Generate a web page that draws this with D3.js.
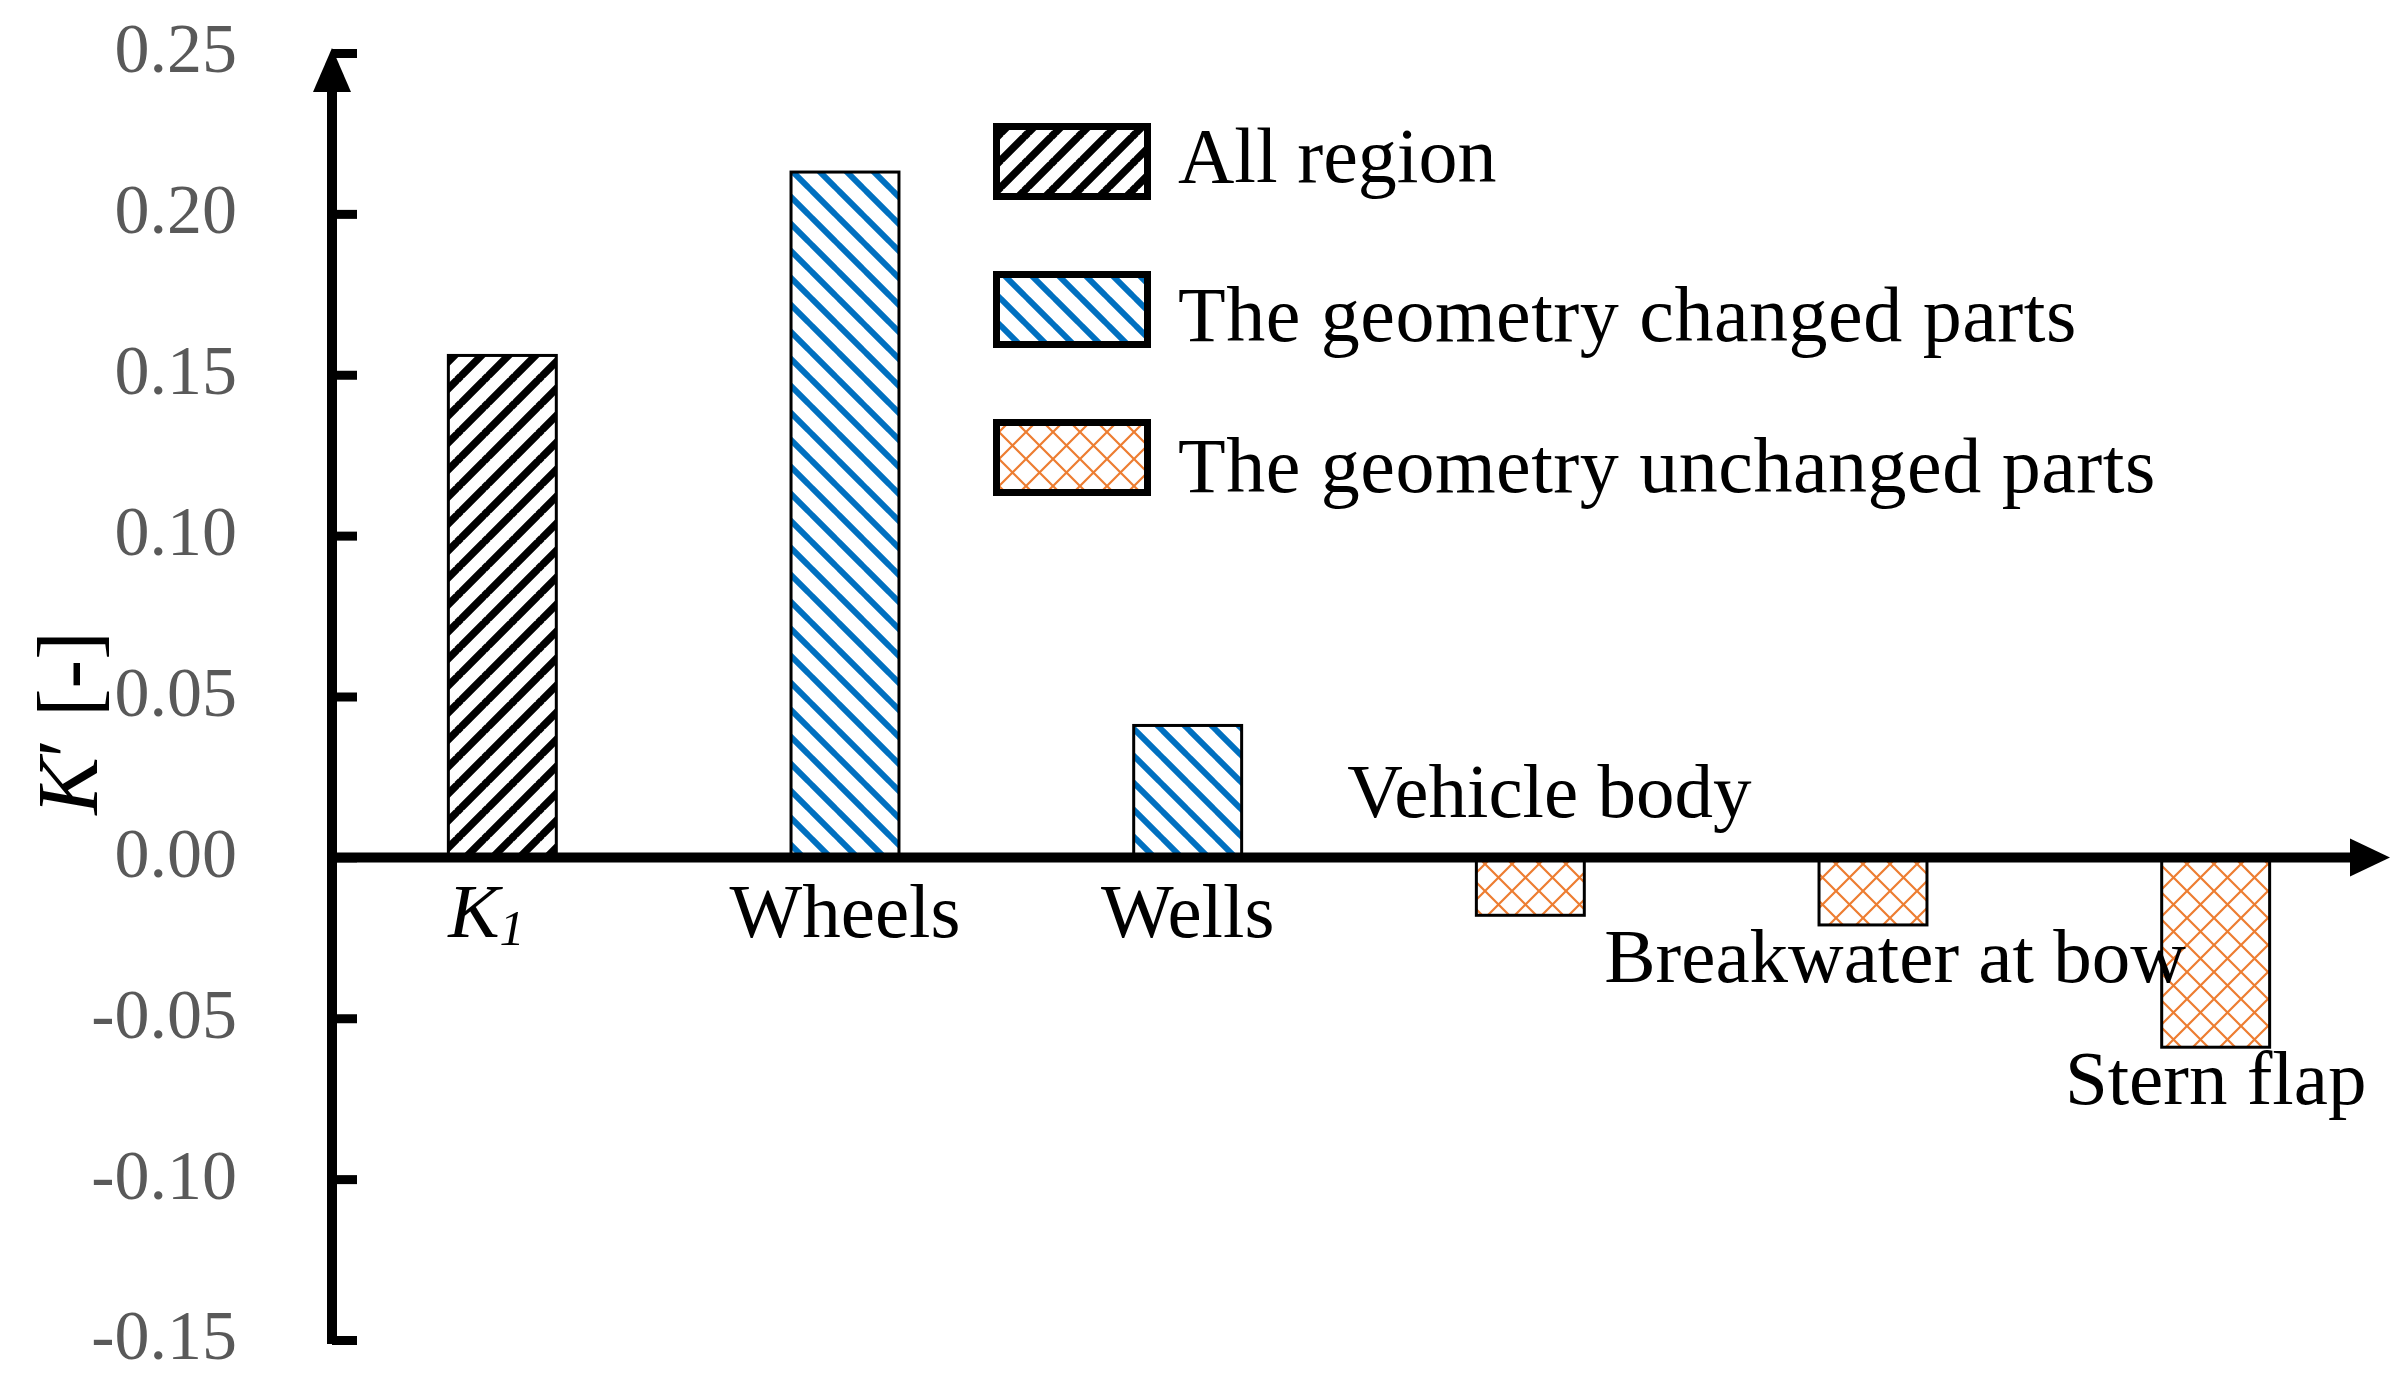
<!DOCTYPE html>
<html>
<head>
<meta charset="utf-8">
<script src="https://cdn.jsdelivr.net/npm/d3@7"></script>
<style>
  html, body { margin: 0; padding: 0; background: #ffffff; }
  svg { display: block; }
  text { font-family: "Liberation Serif", "DejaVu Serif", serif; }
</style>
</head>
<body>
<script>
// ---------------- data ----------------
const categories = ["K1", "Wheels", "Wells", "Vehicle body", "Breakwater at bow", "Stern flap"];
const values = [0.156, 0.213, 0.041, -0.018, -0.021, -0.059];
const groups = ["all", "changed", "changed", "unchanged", "unchanged", "unchanged"];
const seriesKeys = ["all", "changed", "unchanged"];
const seriesNames = ["All region", "The geometry changed parts", "The geometry unchanged parts"];
const tickValues = [-0.15, -0.10, -0.05, 0.00, 0.05, 0.10, 0.15, 0.20, 0.25];
const tickLabels = ["-0.15", "-0.10", "-0.05", "0.00", "0.05", "0.10", "0.15", "0.20", "0.25"];

// ---------------- layout ----------------
const W = 2400, H = 1378;
const axisX = 332;
const svg = d3.select("body").append("svg").attr("width", W).attr("height", H);

const y = d3.scaleLinear().domain([-0.15, 0.25]).range([1340, 53]);
const x = d3.scaleBand().domain(categories).range([331, 2387])
  .paddingInner(0.685).paddingOuter(0.3425);
const y0 = y(0);

// ---------------- patterns ----------------
const defs = svg.append("defs");
const P = 27;
function stripePattern(id, dir, color, sw) {
  const p = defs.append("pattern").attr("id", id).attr("patternUnits", "userSpaceOnUse")
    .attr("width", P).attr("height", P);
  p.append("rect").attr("width", P).attr("height", P).attr("fill", "#fff");
  const d = dir === "up"
    ? `M-2,2 L2,-2 M0,${P} L${P},0 M${P-2},${P+2} L${P+2},${P-2}`
    : `M-2,${P-2} L2,${P+2} M0,0 L${P},${P} M${P-2},-2 L${P+2},2`;
  p.append("path").attr("d", d).attr("stroke", color).attr("stroke-width", sw).attr("fill", "none");
}
stripePattern("pat-all", "up", "#000000", 7.5);
stripePattern("pat-changed", "down", "#0070C0", 6);
(function () {
  const p = defs.append("pattern").attr("id", "pat-unchanged").attr("patternUnits", "userSpaceOnUse")
    .attr("width", P).attr("height", P);
  p.append("rect").attr("width", P).attr("height", P).attr("fill", "#fff");
  p.append("path")
    .attr("d", `M-2,2 L2,-2 M0,${P} L${P},0 M${P-2},${P+2} L${P+2},${P-2} M-2,${P-2} L2,${P+2} M0,0 L${P},${P} M${P-2},-2 L${P+2},2`)
    .attr("stroke", "#ED7D31").attr("stroke-width", 2.2).attr("fill", "none");
})();
const fillFor = g => `url(#pat-${g})`;

// ---------------- bars ----------------
svg.append("g").selectAll("rect").data(categories).join("rect")
  .attr("x", d => x(d))
  .attr("width", x.bandwidth())
  .attr("y", (d, i) => Math.min(y(values[i]), y0))
  .attr("height", (d, i) => Math.abs(y(values[i]) - y0))
  .attr("fill", (d, i) => fillFor(groups[i]))
  .attr("stroke", "#000").attr("stroke-width", 3);

// ---------------- y axis ----------------
const yAxis = d3.axisLeft(y).tickValues(tickValues)
  .tickFormat((d, i) => tickLabels[i]).tickSizeInner(-25).tickSizeOuter(0).tickPadding(95);
const gy = svg.append("g").attr("transform", `translate(${axisX},0)`).call(yAxis);
gy.select(".domain").remove();
gy.selectAll(".tick line").attr("stroke", "#000").attr("stroke-width", 9);
gy.selectAll(".tick text")
  .attr("fill", "#595959").attr("font-size", 70)
  .attr("font-family", "Liberation Serif, serif")
  .attr("dy", "0.27em");

// y axis line + arrow
svg.append("line").attr("x1", axisX).attr("x2", axisX).attr("y1", 1344).attr("y2", 80)
  .attr("stroke", "#000").attr("stroke-width", 10);
svg.append("path").attr("d", `M${axisX},48 L${axisX-19},92 L${axisX+19},92 Z`).attr("fill", "#000");

// x axis (zero line) + arrow
svg.append("line").attr("x1", axisX - 5).attr("x2", 2355).attr("y1", y0).attr("y2", y0)
  .attr("stroke", "#000").attr("stroke-width", 10);
svg.append("path").attr("d", `M2390,${y0} L2350,${y0-19} L2350,${y0+19} Z`).attr("fill", "#000");

// ---------------- category labels ----------------
const labelG = svg.append("g").attr("font-size", 77).attr("fill", "#000");
categories.forEach((c, i) => {
  const cx = x(c) + x.bandwidth() / 2;
  const v = values[i];
  let tx, ty;
  if (v >= 0) { tx = cx; ty = 937; }
  else if (i === 3) { tx = cx + 19; ty = y0 - 40; }
  else { tx = cx + (i === 4 ? 22 : 0); ty = y(v) + 57; }
  const t = labelG.append("text").attr("x", tx).attr("y", ty).attr("text-anchor", "middle");
  if (c === "K1") {
    t.attr("x", tx - 16);
    t.append("tspan").attr("font-style", "italic").text("K");
    t.append("tspan").attr("font-style", "italic").attr("font-size", 50).attr("dy", 8).text("1");
  } else {
    t.text(c);
  }
});

// ---------------- y title ----------------
const yt = svg.append("text").attr("transform", `translate(97,723) rotate(-90)`)
  .attr("text-anchor", "middle").attr("font-size", 86).attr("fill", "#000");
yt.append("tspan").attr("font-style", "italic").text("K");
yt.append("tspan").text("\u2032 [-]");

// ---------------- legend ----------------
const legTops = [123, 271, 419];
const lg = svg.append("g");
seriesKeys.forEach((k, i) => {
  lg.append("rect").attr("x", 996.5).attr("y", legTops[i] + 3.5).attr("width", 151).attr("height", 70)
    .attr("fill", fillFor(k)).attr("stroke", "#000").attr("stroke-width", 7);
  lg.append("text").attr("x", 1178).attr("y", legTops[i] + [59, 70, 73][i])
    .attr("font-size", 78).attr("letter-spacing", i === 0 ? 0 : 0.5)
    .attr("fill", "#000").text(seriesNames[i]);
});
</script>
</body>
</html>
